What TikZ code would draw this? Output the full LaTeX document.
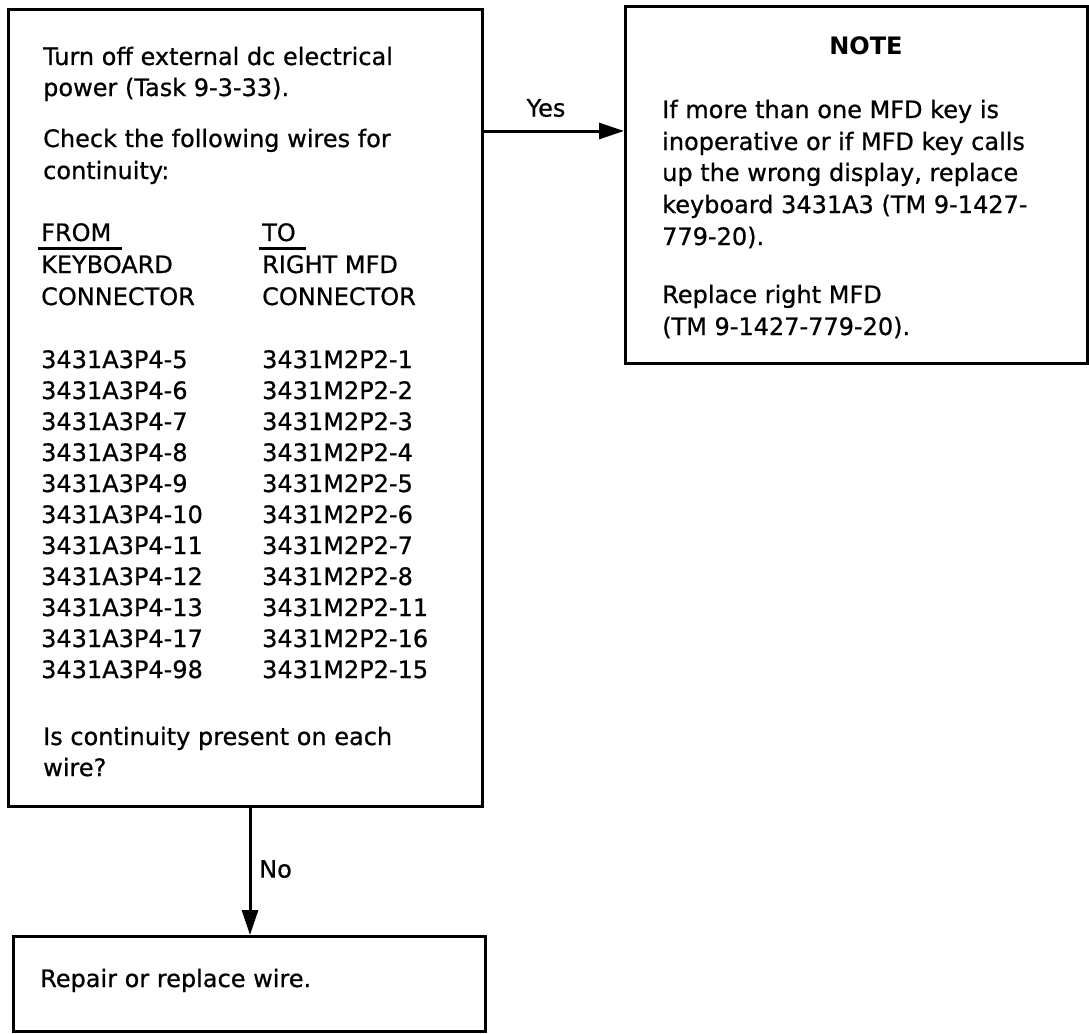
\documentclass[tikz,border=0pt]{standalone}
\usepackage{fontspec}
\setmainfont{DejaVu Sans}[UprightFeatures={FakeBold=0.7}]
\usetikzlibrary{arrows.meta}
\begin{document}
\begin{tikzpicture}[x=1pt,y=-1pt,
  box/.style={draw, line width=3.2pt, rectangle, inner sep=0pt, anchor=north west},
  txt/.style={anchor=base west, inner sep=0pt, font=\fontsize{24}{31}\selectfont},
  lbl/.style={inner sep=0pt, font=\fontsize{24}{31}\selectfont},
  flow/.style={line width=3pt, -{Triangle[length=25pt,width=16pt]}},
  uline/.style={line width=3pt}
]
\useasboundingbox (0,0) rectangle (1089,1033);
% boxes
\node[box, minimum width=474pt, minimum height=797pt] (check) at (7,8) {};
\node[box, minimum width=462pt, minimum height=357pt] (note) at (624,5) {};
\node[box, minimum width=472pt, minimum height=95pt] (repair) at (12,935) {};
% left box text
\node[txt] (t1) at (43,65) {Turn off external dc electrical};
\node[txt] (t2) at (43,96) {power (Task 9-3-33).};
\node[txt] (t3) at (43,147) {Check the following wires for};
\node[txt] (t4) at (43,179) {continuity:};
\node[txt] (hfrom) at (41,241) {FROM};
\node[txt] (hto) at (262,241) {TO};
\node[txt] (hk) at (41,273) {KEYBOARD};
\node[txt] (hr) at (262,273) {RIGHT MFD};
\node[txt] (hc1) at (41,305) {CONNECTOR};
\node[txt] (hc2) at (262,305) {CONNECTOR};
\draw[uline] (38,248) -- (122,248);
\draw[uline] (259,248) -- (306,248);
\foreach \a/\b [count=\i from 0] in {5/1,6/2,7/3,8/4,9/5,10/6,11/7,12/8,13/11,17/16,98/15}{
  \node[txt] (fa\i) at (41,368+31*\i) {3431A3P4-\a};
  \node[txt] (fb\i) at (262,368+31*\i) {3431M2P2-\b};
}
\node[txt] (t5) at (43,745) {Is continuity present on each};
\node[txt] (t6) at (43,776) {wire?};
% note text
\node[lbl, anchor=base, font=\fontsize{24}{31}\selectfont\bfseries] (nt) at (866,55) {NOTE};
\node[txt] (n1) at (662,118) {If more than one MFD key is};
\node[txt] (n2) at (662,150) {inoperative or if MFD key calls};
\node[txt] (n3) at (662,181) {up the wrong display, replace};
\node[txt] (n4) at (662,213) {keyboard 3431A3 (TM 9-1427-};
\node[txt] (n5) at (662,245) {779-20).};
\node[txt] (n6) at (662,303) {Replace right MFD};
\node[txt] (n7) at (662,335) {(TM 9-1427-779-20).};
% repair text
\node[txt] (r1) at (40,987) {Repair or replace wire.};
% connectors
\coordinate (yy) at (0,131);
\coordinate (nx) at (250,0);
\draw[flow] (check.east |- yy) -- (note.west |- yy);
\node[lbl] (yes) at (546,108) {Yes};
\draw[flow] (check.south -| nx) -- (repair.north -| nx);
\node[lbl, anchor=west] (no) at (259,869) {No};
\end{tikzpicture}
\end{document}
